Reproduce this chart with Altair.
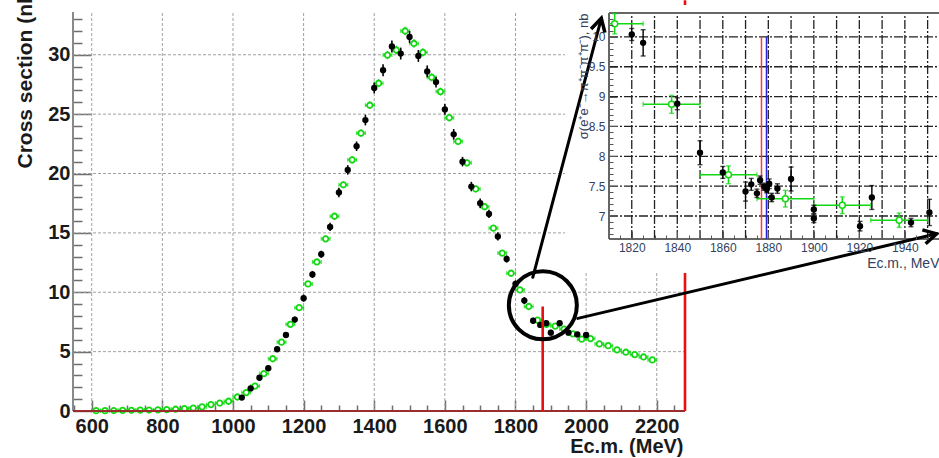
import altair as alt
import pandas as pd

FONT = "Liberation Sans"
INK = "#1a1a1a"
AXIS_GREY = "#6e6e6e"
GRID_GREY = "#a0a0a0"
GREEN = "#12d812"
SLATE = "#333f5f"

# ---------------- main panel: e+e- -> 2(pi+pi-) cross section ----------------
BABAR_E = [612.5, 637.5, 662.5, 687.5, 712.5, 737.5, 762.5, 787.5, 812.5, 837.5,
           862.5, 887.5, 912.5, 937.5, 962.5, 987.5, 1012.5, 1037.5, 1062.5, 1087.5,
           1112.5, 1137.5, 1162.5, 1187.5, 1212.5, 1237.5, 1262.5, 1287.5, 1312.5, 1337.5,
           1362.5, 1387.5, 1412.5, 1437.5, 1462.5, 1487.5, 1512.5, 1537.5, 1562.5, 1587.5,
           1612.5, 1637.5, 1662.5, 1687.5, 1712.5, 1737.5, 1762.5, 1787.5, 1812.5, 1837.5,
           1862.5, 1887.5, 1912.5, 1937.5, 1962.5, 1987.5, 2012.5, 2037.5, 2062.5, 2087.5,
           2112.5, 2137.5, 2162.5, 2187.5]
BABAR_XS = [0.03, 0.03, 0.04, 0.05, 0.06, 0.07, 0.08, 0.10, 0.12, 0.15,
            0.20, 0.25, 0.35, 0.54, 0.67, 0.82, 1.18, 1.55, 2.1, 3.15,
            4.4, 5.8, 7.3, 8.7, 10.7, 12.55, 14.5, 16.4, 19.05, 21.15,
            23.4, 25.75, 27.6, 29.97, 30.4, 32.0, 30.95, 30.2, 28.1, 26.9,
            24.7, 22.7, 20.9, 18.7, 17.2, 15.4, 13.3, 11.6, 10.2, 8.8,
            7.65, 7.3, 7.15, 6.9, 6.5, 6.05, 6.1, 5.65, 5.5, 5.15,
            4.95, 4.75, 4.55, 4.3]
BABAR_ERR = [0.02, 0.02, 0.02, 0.02, 0.03, 0.03, 0.03, 0.03, 0.04, 0.04,
             0.04, 0.05, 0.05, 0.06, 0.06, 0.07, 0.08, 0.09, 0.1, 0.12,
             0.14, 0.16, 0.18, 0.2, 0.22, 0.24, 0.25, 0.26, 0.28, 0.3,
             0.3, 0.32, 0.33, 0.35, 0.35, 0.36, 0.35, 0.35, 0.34, 0.33,
             0.32, 0.3, 0.3, 0.28, 0.26, 0.25, 0.23, 0.22, 0.2, 0.18,
             0.17, 0.16, 0.16, 0.15, 0.15, 0.14, 0.14, 0.13, 0.13, 0.12,
             0.12, 0.12, 0.11, 0.11]
BABAR_HALF_BIN = 12.5

CMD_E = [1025, 1050, 1075, 1100, 1125, 1150, 1175, 1200, 1225, 1250,
         1275, 1300, 1325, 1350, 1375, 1400, 1425, 1450, 1475, 1500,
         1525, 1550, 1575, 1600, 1625, 1650, 1675, 1700, 1725, 1750,
         1775, 1800, 1825, 1850, 1870, 1887, 1900, 1925, 1950, 1975, 2000]
CMD_XS = [1.13, 1.9, 2.8, 3.6, 5.2, 6.4, 7.7, 9.5, 11.5, 13.2,
          15.5, 18.4, 20.3, 22.3, 24.5, 27.2, 28.7, 30.7, 30.1, 31.5,
          29.9, 28.6, 27.7, 25.4, 23.3, 21.0, 18.9, 17.5, 16.6, 14.7,
          12.8, 10.7, 9.3, 7.6, 7.25, 7.4, 6.6, 7.4, 6.6, 6.45, 6.4]
CMD_ERR = [0.1, 0.15, 0.15, 0.2, 0.2, 0.2, 0.25, 0.3, 0.3, 0.3,
           0.35, 0.4, 0.4, 0.4, 0.45, 0.45, 0.5, 0.5, 0.5, 0.5,
           0.5, 0.5, 0.45, 0.45, 0.45, 0.4, 0.4, 0.4, 0.35, 0.35,
           0.3, 0.3, 0.3, 0.25, 0.25, 0.25, 0.25, 0.25, 0.2, 0.2, 0.2]

MAIN_X_DOMAIN = [547, 2280]
MAIN_Y_DOMAIN = [0, 33.6]
MAIN_X_MAJOR = [600, 800, 1000, 1200, 1400, 1600, 1800, 2000, 2200]
MAIN_X_MINOR = [550, 650, 700, 750, 850, 900, 950, 1050, 1100, 1150, 1250, 1300, 1350,
                1450, 1500, 1550, 1650, 1700, 1750, 1850, 1900, 1950, 2050, 2100, 2150, 2250]
MAIN_Y_MAJOR = [0, 5, 10, 15, 20, 25, 30]
MAIN_Y_MINOR = [1, 2, 3, 4, 6, 7, 8, 9, 11, 12, 13, 14, 16, 17, 18, 19,
                21, 22, 23, 24, 26, 27, 28, 29, 31, 32, 33]
MAIN_GRID_Y = [5, 10, 15, 20, 25, 30]

PP_THRESHOLD_E = 1877
PP_THRESHOLD_TOP = 8.8
RIGHT_EDGE_E = 2280
RIGHT_EDGE_TOP = 34.6

# ---------------- inset: close-up of the p-pbar threshold region ----------------
INS_X_DOMAIN = [1810, 1955]
INS_Y_DOMAIN = [6.615, 10.4]
INS_X_RANGE = [536, 866]
INS_Y_RANGE = [227, 1]
INS_PANEL_X = [1790.7, 1962]
INS_PANEL_Y = [6.045, 10.534]
INS_X_MAJOR = [1820, 1840, 1860, 1880, 1900, 1920, 1940]
INS_X_MINOR = [1815, 1825, 1830, 1835, 1845, 1850, 1855, 1865, 1870, 1875, 1885, 1890,
               1895, 1905, 1910, 1915, 1925, 1930, 1935, 1945, 1950]
INS_Y_MAJOR = [7, 7.5, 8, 8.5, 9, 9.5, 10]
INS_Y_MINOR = [6.7, 6.8, 6.9, 7.1, 7.2, 7.3, 7.4, 7.6, 7.7, 7.8, 7.9, 8.1, 8.2, 8.3, 8.4,
               8.6, 8.7, 8.8, 8.9, 9.1, 9.2, 9.3, 9.4, 9.6, 9.7, 9.8, 9.9, 10.1, 10.2, 10.3]
INS_GRID_X = [1820, 1830, 1840, 1850, 1860, 1870, 1880, 1890, 1900, 1910, 1920, 1930, 1940, 1950]
INS_GRID_Y = [7, 7.5, 8, 8.5, 9, 9.5, 10]

INS_CMD_E = [1820, 1825, 1840, 1850, 1860, 1870, 1872.5, 1875, 1876.4, 1878.2, 1879.3,
             1880.4, 1881.5, 1884, 1890, 1900, 1900, 1920.3, 1925.5, 1942.7, 1950.8]
INS_CMD_XS = [10.04, 9.90, 8.88, 8.06, 7.73, 7.41, 7.53, 7.38, 7.60, 7.49, 7.45,
              7.54, 7.31, 7.46, 7.62, 7.11, 6.96, 6.83, 7.31, 6.89, 7.06]
INS_CMD_ERR = [0.10, 0.22, 0.10, 0.20, 0.10, 0.16, 0.10, 0.07, 0.07, 0.06, 0.06,
               0.08, 0.07, 0.08, 0.20, 0.07, 0.07, 0.08, 0.20, 0.07, 0.22]
INS_BABAR_E = [1812.5, 1837.5, 1862.5, 1887.5, 1912.5, 1937.5]
INS_BABAR_XS = [10.22, 8.87, 7.69, 7.29, 7.18, 6.93]
INS_BABAR_ERR = [0.17, 0.15, 0.15, 0.14, 0.14, 0.12]
INS_LINE_E = [1877.0, 1879.2]
INS_LINE_COLOR = ["#ff3b3b", "#2424d8"]
INS_LINE_TOP = 10.0

# ---------------- magnifier annotation, in main-panel units ----------------
LOUPE_E = [1877.5]
LOUPE_XS = [8.9]
ARROW_FROM_E = [1849.0, 1976.6]
ARROW_FROM_XS = [11.26, 7.8]
ARROW_TO_E = [2043.0, 2992.6]
ARROW_TO_XS = [33.07, 14.92]
ARROW_ANGLE = [14.8, 76.8]
CHEVRON = "M -0.55 1 L 0 0 L 0.55 1"


def qx(field, scale, axis=None):
    return alt.X(field, type="quantitative", scale=scale, axis=axis)


def qy(field, scale, axis=None):
    return alt.Y(field, type="quantitative", scale=scale, axis=axis)


# ---------------- axes ----------------
main_lab = dict(labelFont=FONT, labelFontSize=20, labelFontWeight="bold", labelColor=INK,
                tickColor=AXIS_GREY, tickWidth=1.5, domain=False, grid=False,
                labelOverlap=False, labelFlush=False)
AX_MAIN_X = alt.Axis(orient="bottom", values=MAIN_X_MAJOR, offset=-11, tickSize=11,
                     labelPadding=5, format="d", title="Ec.m. (MeV)", titleFont=FONT,
                     titleFontSize=20, titleFontWeight="bold", titleColor=INK,
                     titleAlign="right", titleBaseline="alphabetic", titleX=610, titleY=52,
                     **main_lab)
AX_MAIN_X_MINOR = alt.Axis(orient="bottom", values=MAIN_X_MINOR, offset=-6, tickSize=6,
                           labels=False, domain=False, grid=False, tickColor=AXIS_GREY,
                           tickWidth=1.5, title=None)
AX_MAIN_Y = alt.Axis(orient="left", values=MAIN_Y_MAJOR, offset=-18, tickSize=18,
                     labelPadding=3, format="d", title="Cross section (nb)", titleFont=FONT,
                     titleFontSize=21, titleFontWeight="bold", titleColor=INK, titleAngle=270,
                     titleAlign="left", titleBaseline="middle", titleX=-66, titleY=156,
                     **main_lab)
AX_MAIN_Y_MINOR = alt.Axis(orient="left", values=MAIN_Y_MINOR, offset=-9, tickSize=9,
                           labels=False, domain=False, grid=False, tickColor=AXIS_GREY,
                           tickWidth=1.5, title=None)

ins_lab = dict(labelFont=FONT, labelFontSize=12, labelColor=SLATE, tickColor="#555555",
               tickWidth=1, domain=False, grid=False, zindex=1, labelOverlap=False,
               labelFlush=False)
AX_INS_X = alt.Axis(orient="bottom", values=INS_X_MAJOR, offset=-180, tickSize=8,
                    labelPadding=3, format="d", title="Ec.m., MeV", titleFont=FONT,
                    titleFontSize=14, titleFontWeight="normal", titleColor=SLATE,
                    titleAlign="right", titleBaseline="alphabetic", titleX=866, titleY=36,
                    **ins_lab)
AX_INS_X_MINOR = alt.Axis(orient="bottom", values=INS_X_MINOR, offset=-176, tickSize=4,
                          labels=False, domain=False, grid=False, tickColor="#555555",
                          zindex=1, title=None)
AX_INS_Y = alt.Axis(orient="left", values=INS_Y_MAJOR, offset=-544, tickSize=8,
                    labelPadding=4, format="~g",
                    title="σ(e⁺e⁻→π⁺π⁻π⁺π⁻), nb", titleFont=FONT, titleFontSize=13,
                    titleFontWeight="normal", titleColor=SLATE, titleAngle=270,
                    titleAlign="right", titleBaseline="middle", titleX=-34, titleY=1,
                    **ins_lab)
AX_INS_Y_MINOR = alt.Axis(orient="left", values=INS_Y_MINOR, offset=-540, tickSize=4,
                          labels=False, domain=False, grid=False, tickColor="#555555",
                          zindex=1, title=None)

# ---------------- main panel ----------------
MX = alt.Scale(domain=MAIN_X_DOMAIN, nice=False, zero=False)
MY = alt.Scale(domain=MAIN_Y_DOMAIN, nice=False, zero=False)

babar = pd.DataFrame({"e": BABAR_E, "s": BABAR_XS, "err": BABAR_ERR})
babar["lo"] = babar.e - BABAR_HALF_BIN
babar["hi"] = babar.e + BABAR_HALF_BIN
babar["slo"] = babar.s - babar.err
babar["shi"] = babar.s + babar.err
babar_caps = pd.concat([babar[["lo", "s"]].rename(columns={"lo": "x"}),
                        babar[["hi", "s"]].rename(columns={"hi": "x"})])

cmd = pd.DataFrame({"e": CMD_E, "s": CMD_XS, "err": CMD_ERR})
cmd["slo"] = cmd.s - cmd.err
cmd["shi"] = cmd.s + cmd.err

main_vgrid = alt.Chart(pd.DataFrame({"x": MAIN_X_MAJOR, "y0": MAIN_Y_DOMAIN[0],
                                     "y1": MAIN_Y_DOMAIN[1]})).mark_rule(
    color=GRID_GREY, strokeDash=[3, 2], strokeWidth=1).encode(
    x=qx("x", MX, AX_MAIN_X), y=qy("y0", MY), y2="y1")
main_hgrid = alt.Chart(pd.DataFrame({"y": MAIN_GRID_Y, "x0": MAIN_X_DOMAIN[0],
                                     "x1": MAIN_X_DOMAIN[1]})).mark_rule(
    color=GRID_GREY, strokeDash=[3, 2], strokeWidth=1).encode(
    y=qy("y", MY, AX_MAIN_Y), x=qx("x0", MX), x2="x1")
main_frame = alt.Chart(pd.DataFrame({"x": [MAIN_X_DOMAIN[0]], "y0": [MAIN_Y_DOMAIN[0]],
                                     "y1": [MAIN_Y_DOMAIN[1]]})).mark_rule(
    color="#8a8a8a", strokeWidth=2).encode(
    x=qx("x", MX, AX_MAIN_X_MINOR), y=qy("y0", MY, AX_MAIN_Y_MINOR), y2="y1")

g_hbar = alt.Chart(babar).mark_rule(color=GREEN, strokeWidth=1.3).encode(
    x=qx("lo", MX), x2="hi", y=qy("s", MY))
g_vbar = alt.Chart(babar).mark_rule(color=GREEN, strokeWidth=1.3).encode(
    x=qx("e", MX), y=qy("slo", MY), y2="shi")
g_caps = alt.Chart(babar_caps).mark_tick(color=GREEN, orient="vertical", size=4,
                                        thickness=1.2).encode(x=qx("x", MX), y=qy("s", MY))
g_pts = alt.Chart(babar).mark_point(shape="circle", filled=True, fill="white", stroke=GREEN,
                                    strokeWidth=1.8, size=30, opacity=1).encode(
    x=qx("e", MX), y=qy("s", MY))

b_err = alt.Chart(cmd).mark_rule(color="black", strokeWidth=1.6).encode(
    x=qx("e", MX), y=qy("slo", MY), y2="shi")
b_pts = alt.Chart(cmd).mark_point(shape="circle", filled=True, color="black", size=40,
                                  opacity=1).encode(x=qx("e", MX), y=qy("s", MY))

baseline = alt.Chart(pd.DataFrame({"x0": [MAIN_X_DOMAIN[0]], "x1": [MAIN_X_DOMAIN[1]],
                                   "y": [0]})).mark_rule(color="#9b2c2c", strokeWidth=2).encode(
    x=qx("x0", MX), x2="x1", y=qy("y", MY))
red_lines = alt.Chart(pd.DataFrame({"x": [PP_THRESHOLD_E, RIGHT_EDGE_E], "y0": [0, 0],
                                    "y1": [PP_THRESHOLD_TOP, RIGHT_EDGE_TOP]})).mark_rule(
    color="#e81010", strokeWidth=2.6).encode(x=qx("x", MX), y=qy("y0", MY), y2="y1")

main = alt.layer(main_vgrid, main_hgrid, main_frame, g_hbar, g_vbar, g_caps, g_pts,
                 b_err, b_pts, baseline, red_lines).resolve_axis(x="independent",
                                                                  y="independent")

# ---------------- inset panel ----------------
IX = alt.Scale(domain=INS_X_DOMAIN, range=INS_X_RANGE, nice=False, zero=False)
IY = alt.Scale(domain=INS_Y_DOMAIN, range=INS_Y_RANGE, nice=False, zero=False)

ib = pd.DataFrame({"e": INS_BABAR_E, "s": INS_BABAR_XS, "err": INS_BABAR_ERR})
ib["lo"] = (ib.e - BABAR_HALF_BIN).clip(lower=INS_X_DOMAIN[0])
ib["hi"] = (ib.e + BABAR_HALF_BIN).clip(upper=INS_X_DOMAIN[1])
ib["slo"] = ib.s - ib.err
ib["shi"] = ib.s + ib.err
ib_xcaps = pd.concat([ib.loc[ib.lo > INS_X_DOMAIN[0], ["lo", "s"]].rename(columns={"lo": "x"}),
                      ib.loc[ib.hi < INS_X_DOMAIN[1], ["hi", "s"]].rename(columns={"hi": "x"})])
ib_ycaps = pd.concat([ib[["e", "slo"]].rename(columns={"slo": "y"}),
                      ib[["e", "shi"]].rename(columns={"shi": "y"})])

ic = pd.DataFrame({"e": INS_CMD_E, "s": INS_CMD_XS, "err": INS_CMD_ERR})
ic["slo"] = ic.s - ic.err
ic["shi"] = ic.s + ic.err
ic_caps = pd.concat([ic[["e", "slo"]].rename(columns={"slo": "y"}),
                     ic[["e", "shi"]].rename(columns={"shi": "y"})])

panel = alt.Chart(pd.DataFrame({"x0": [INS_PANEL_X[0]], "x1": [INS_PANEL_X[1]],
                                "y0": [INS_PANEL_Y[0]], "y1": [INS_PANEL_Y[1]]})).mark_rect(
    color="white", opacity=1).encode(x=qx("x0", IX), x2="x1", y=qy("y0", IY), y2="y1")
ins_vgrid = alt.Chart(pd.DataFrame({"x": INS_GRID_X, "y0": INS_Y_DOMAIN[0],
                                    "y1": INS_Y_DOMAIN[1]})).mark_rule(
    color="#222222", strokeDash=[9, 2, 2, 2], strokeWidth=1.3).encode(
    x=qx("x", IX, AX_INS_X), y=qy("y0", IY), y2="y1")
ins_hgrid = alt.Chart(pd.DataFrame({"y": INS_GRID_Y, "x0": INS_X_DOMAIN[0],
                                    "x1": INS_X_DOMAIN[1]})).mark_rule(
    color="#222222", strokeDash=[9, 2, 2, 2], strokeWidth=1.3).encode(
    y=qy("y", IY, AX_INS_Y), x=qx("x0", IX), x2="x1")
ins_frame = alt.Chart(pd.DataFrame({
    "x0": [INS_X_DOMAIN[0], INS_X_DOMAIN[0], INS_X_DOMAIN[0]],
    "x1": [INS_X_DOMAIN[0], INS_X_DOMAIN[1], INS_X_DOMAIN[1]],
    "y0": [INS_Y_DOMAIN[0], INS_Y_DOMAIN[0], INS_Y_DOMAIN[1]],
    "y1": [INS_Y_DOMAIN[1], INS_Y_DOMAIN[0], INS_Y_DOMAIN[1]]})).mark_rule(
    color="#666666", strokeWidth=2).encode(
    x=qx("x0", IX, AX_INS_X_MINOR), x2="x1", y=qy("y0", IY, AX_INS_Y_MINOR), y2="y1")
ins_lines = alt.Chart(pd.DataFrame({"x": INS_LINE_E, "c": INS_LINE_COLOR,
                                    "y0": INS_Y_DOMAIN[0], "y1": INS_LINE_TOP})).mark_rule(
    strokeWidth=1.5).encode(x=qx("x", IX), y=qy("y0", IY), y2="y1",
                            color=alt.Color("c:N", scale=None))

ig_hbar = alt.Chart(ib).mark_rule(color=GREEN, strokeWidth=1.5).encode(
    x=qx("lo", IX), x2="hi", y=qy("s", IY))
ig_vbar = alt.Chart(ib).mark_rule(color=GREEN, strokeWidth=1.5).encode(
    x=qx("e", IX), y=qy("slo", IY), y2="shi")
ig_xcaps = alt.Chart(ib_xcaps).mark_tick(color=GREEN, orient="vertical", size=5,
                                        thickness=1.4).encode(x=qx("x", IX), y=qy("s", IY))
ig_ycaps = alt.Chart(ib_ycaps).mark_tick(color=GREEN, orient="horizontal", size=5,
                                        thickness=1.4).encode(x=qx("e", IX), y=qy("y", IY))
ig_pts = alt.Chart(ib).mark_point(shape="circle", filled=True, fill="white", stroke=GREEN,
                                  strokeWidth=1.5, size=36, opacity=1).encode(
    x=qx("e", IX), y=qy("s", IY))

ic_err = alt.Chart(ic).mark_rule(color="black", strokeWidth=1.4).encode(
    x=qx("e", IX), y=qy("slo", IY), y2="shi")
ic_caps_l = alt.Chart(ic_caps).mark_tick(color="black", orient="horizontal", size=5,
                                        thickness=1.4).encode(x=qx("e", IX), y=qy("y", IY))
ic_pts = alt.Chart(ic).mark_point(shape="circle", filled=True, color="black", size=40,
                                  opacity=1).encode(x=qx("e", IX), y=qy("s", IY))

inset = alt.layer(panel, ins_vgrid, ins_hgrid, ins_frame, ins_lines, ig_hbar, ig_vbar,
                  ig_xcaps, ig_ycaps, ig_pts, ic_err, ic_caps_l, ic_pts).resolve_axis(
    x="independent", y="independent")

# ---------------- magnifier circle and arrows ----------------
AXS = alt.Scale(domain=MAIN_X_DOMAIN, nice=False, zero=False)
AYS = alt.Scale(domain=MAIN_Y_DOMAIN, nice=False, zero=False)

loupe = alt.Chart(pd.DataFrame({"x": LOUPE_E, "y": LOUPE_XS})).mark_point(
    shape="circle", filled=False, color="black", strokeWidth=4, size=4624, opacity=1).encode(
    x=qx("x", AXS), y=qy("y", AYS))
arrows_df = pd.DataFrame({"x0": ARROW_FROM_E, "y0": ARROW_FROM_XS, "x1": ARROW_TO_E,
                          "y1": ARROW_TO_XS, "ang": ARROW_ANGLE})
arrow_lines = alt.Chart(arrows_df).mark_rule(color="black", strokeWidth=3,
                                             strokeCap="round").encode(
    x=qx("x0", AXS), x2="x1", y=qy("y0", AYS), y2="y1")
arrow_heads = alt.Chart(arrows_df).mark_point(shape=CHEVRON, filled=False, color="black",
                                              strokeWidth=3.5, size=676, opacity=1,
                                              strokeJoin="miter").encode(
    x=qx("x1", AXS), y=qy("y1", AYS), angle=alt.Angle("ang:Q", scale=None))

annot = alt.layer(loupe, arrow_lines, arrow_heads)

chart = alt.layer(main, inset, annot).resolve_scale(
    x="independent", y="independent").properties(
    width=612, height=399,
    padding={"left": 73, "top": 12, "right": 254, "bottom": 47},
    autosize=alt.AutoSizeParams(type="none"),
    background="white",
).configure_view(strokeWidth=0)

chart.save("out.html", embed_options={"renderer": "svg", "actions": False})
